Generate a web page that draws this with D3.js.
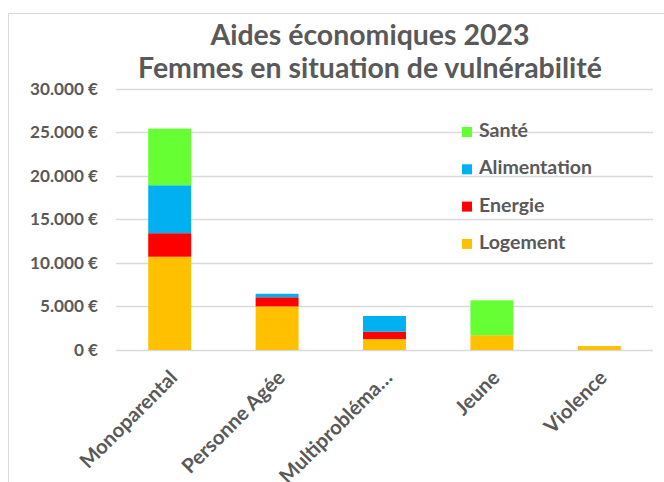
<!DOCTYPE html>
<html>
<head>
<meta charset="utf-8">
<script src="https://cdn.jsdelivr.net/npm/d3@7"></script>
<style>
  html, body { margin: 0; padding: 0; background: #fff; }
  svg { display: block; }
  text { font-family: "Lato", "Open Sans", sans-serif; fill: #595959; font-weight: 700; }
</style>
</head>
<body>
<svg id="chart" width="664" height="482"></svg>
<script>
// ---- data ----
const categories = ["Monoparental", "Personne Agée", "Multiproblématique", "Jeune", "Violence"];
const tickLabels = ["Monoparental", "Personne Agée", "Multiprobléma…", "Jeune", "Violence"];
const seriesNames = ["Logement", "Energie", "Alimentation", "Santé"];
const logement     = [10700, 5000, 1250, 1700, 450];
const energie      = [2700, 1050, 850, 0, 0];
const alimentation = [5500, 400, 1800, 0, 0];
const sante        = [6500, 0, 0, 4000, 0];
const yTicks = [0, 5000, 10000, 15000, 20000, 25000, 30000];
const titleLines = ["Aides économiques 2023", "Femmes en situation de vulnérabilité"];
const colors = ["#FFC000", "#FF0000", "#00B0F0", "#66FF33"];

// ---- build table ----
const seriesValues = [logement, energie, alimentation, sante];
const table = categories.map((c, i) => {
  const row = { category: c };
  seriesNames.forEach((s, j) => row[s] = seriesValues[j][i]);
  return row;
});
const stacked = d3.stack().keys(seriesNames)(table);

const svg = d3.select("#chart");

// frame
svg.append("rect").attr("x", 8.5).attr("y", 13.5).attr("width", 700).attr("height", 500)
  .attr("fill", "#fff").attr("stroke", "#d9d9d9").attr("stroke-width", 1);

const x = d3.scaleBand().domain(categories).range([116, 653]).paddingInner(0.6).paddingOuter(0.3);
const y = d3.scaleLinear().domain([0, 30000]).range([350, 88.5]);

const loc = d3.formatLocale({ decimal: ",", thousands: ".", grouping: [3], currency: ["", " €"] });
const fmt = loc.format("$,.0f");

function fit(sel, sample, target) {
  const t = svg.append("text").attr("font-size", 20).text(sample);
  const w = t.node().getComputedTextLength();
  t.remove();
  return 20 * target / w;
}

// y axis labels
const yAxis = d3.axisLeft(y).tickValues(yTicks).tickFormat(fmt).tickSize(0).tickPadding(0);
const yG = svg.append("g").attr("transform", "translate(98,0)").call(yAxis);
yG.select(".domain").remove();
const ySize = fit(svg, "30.000 €", 68);
yG.selectAll("text").attr("font-size", ySize).attr("font-family", null).attr("fill", "#595959")
  .style("font-family", "Lato, 'Open Sans', sans-serif").style("font-weight", 700);

// gridlines
svg.append("g").selectAll("line").data(yTicks).join("line")
  .attr("x1", 116).attr("x2", 653)
  .attr("y1", d => Math.round(y(d)) + 0.5).attr("y2", d => Math.round(y(d)) + 0.5)
  .attr("stroke", "#d9d9d9").attr("stroke-width", 1.5);

// bars
svg.append("g").selectAll("g").data(stacked).join("g")
  .attr("fill", (d, i) => colors[i])
  .selectAll("rect").data(d => d).join("rect")
  .attr("x", d => x(d.data.category))
  .attr("width", x.bandwidth())
  .attr("y", d => y(d[1]))
  .attr("height", d => Math.max(0, y(d[0]) - y(d[1])));

// x labels
const xAxis = d3.axisBottom(x).tickSize(0).tickFormat((d, i) => tickLabels[i]);
const xG = svg.append("g").attr("transform", "translate(0,350)").call(xAxis);
xG.select(".domain").remove();
const xSize = fit(svg, "Monoparental", 128);
xG.selectAll(".tick text")
  .attr("font-size", xSize).attr("fill", "#595959")
  .style("font-family", "Lato, 'Open Sans', sans-serif").style("font-weight", 700)
  .attr("text-anchor", "end").attr("dy", null).attr("y", 0)
  .attr("transform", "translate(9,29) rotate(-45)");

// title
const tSize = fit(svg, titleLines[1], 464);
svg.append("g").selectAll("text").data(titleLines).join("text")
  .attr("x", 370).attr("y", (d, i) => 45 + i * 33)
  .attr("text-anchor", "middle").attr("font-size", tSize).text(d => d);

// legend (top to bottom: Santé, Alimentation, Energie, Logement)
const lSize = fit(svg, "Alimentation", 113);
const legendOrder = seriesNames.slice().reverse();
const lg = svg.append("g").selectAll("g").data(legendOrder).join("g")
  .attr("transform", (d, i) => `translate(462, ${137 + i * 37.3})`);
lg.append("rect").attr("x", 0).attr("y", -10).attr("width", 10).attr("height", 10)
  .attr("fill", d => colors[seriesNames.indexOf(d)]);
lg.append("text").attr("x", 17).attr("y", 0).attr("font-size", lSize).text(d => d);
</script>
</body>
</html>
